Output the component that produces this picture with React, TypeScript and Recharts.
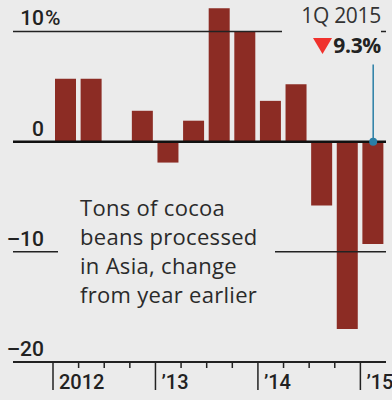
import { BarChart, Bar, XAxis, YAxis, ReferenceLine, ReferenceDot } from 'recharts';

const quarters = ['1Q12', '2Q12', '3Q12', '4Q12', '1Q13', '2Q13', '3Q13', '4Q13', '1Q14', '2Q14', '3Q14', '4Q14', '1Q15'];
const changes = [5.7, 5.7, 0, 2.8, -1.9, 1.9, 12.1, 10.0, 3.7, 5.2, -5.8, -17.0, -9.3];
const yearStarts = ['1Q12', '1Q13', '1Q14', '1Q15'];
const yearLabels = ['2012', '\u201913', '\u201914', '\u201915'];
const yTicks = [-20, -10, 0, 10];

const BG = '#ebebeb';
const BAR = '#8c2c24';
const INK = '#222';
const BLUE = '#2a7fa6';

const data = quarters.map((q, i) => ({ q, change: changes[i] }));

function yLabel(v: number) {
  return (props: any) => {
    const { viewBox } = props;
    const x = viewBox.x + 31;
    const y = viewBox.y - 6;
    const txt = v < 0 ? '\u2013' + Math.abs(v) : String(v);
    return (
      <g>
        <text x={x} y={y} textAnchor="end" fill={INK} fontSize={21} fontWeight={500} fontFamily="Roboto">
          {txt}
        </text>
        {v === 10 && (
          <text x={x + 1} y={y} textAnchor="start" fill={INK} fontSize={21} fontWeight={500} fontFamily="Roboto">
            %
          </text>
        )}
      </g>
    );
  };
}

function XTick(props: any) {
  const { x, y, payload } = props;
  const left = x - payload.offset;
  const yi = yearStarts.indexOf(payload.value);
  const major = yi >= 0;
  return (
    <g>
      <line x1={left} x2={left} y1={y} y2={y + (major ? 28 : 6)} stroke={INK} strokeWidth={1.5} />
      {major && (
        <text x={left + 6} y={y + 27} textAnchor="start" fill={INK} fontSize={20} fontWeight={500} fontFamily="Roboto">
          {yearLabels[yi]}
        </text>
      )}
    </g>
  );
}

export default function App() {
  return (
    <div style={{ position: 'absolute', left: 0, top: 0, width: 392, height: 400, background: BG, overflow: 'hidden' }}>
      <BarChart width={392} height={400} data={data} margin={{ top: 5, right: 6, left: 13, bottom: 8 }} barSize={21}>
        <XAxis
          dataKey="q"
          padding={{ left: 40, right: 0 }}
          interval={0}
          tickLine={false}
          tickSize={0}
          tickMargin={0}
          height={30}
          axisLine={{ stroke: INK, strokeWidth: 2 }}
          tick={<XTick />}
        />
        <YAxis hide domain={[-20, 12.4]} ticks={yTicks} />
        <ReferenceLine y={10} stroke={INK} strokeWidth={1.5} />
        <ReferenceLine y={-10} stroke={INK} strokeWidth={1.5} />
        <Bar dataKey="change" fill={BAR} isAnimationActive={false} />
        <ReferenceLine y={0} stroke="#111" strokeWidth={2.5} />
        <ReferenceLine segment={[{ x: '1Q15', y: 0 }, { x: '1Q15', y: 7 }]} stroke={BLUE} strokeWidth={1.5} />
        <ReferenceDot x="1Q15" y={0} r={4} fill={BLUE} stroke="none" />
        {yTicks.map((v) => (
          <ReferenceLine key={v} y={v} stroke="none" label={yLabel(v)} />
        ))}
      </BarChart>
      <div
        style={{
          position: 'absolute',
          left: 282,
          top: 0,
          width: 99,
          height: 60,
          background: BG,
          textAlign: 'right',
          fontFamily: '"Open Sans"',
          color: '#333',
          fontSize: 21,
          lineHeight: '30px',
          letterSpacing: -0.3,
        }}
      >
        <div>1Q 2015</div>
        <div style={{ fontWeight: 700, color: '#222' }}>
          <svg width={19} height={16} style={{ marginRight: 1, verticalAlign: '-1px' }}>
            <polygon points="0,0 19,0 9.5,16" fill="#f0312c" />
          </svg>
          9.3%
        </div>
      </div>
      <div
        style={{
          position: 'absolute',
          left: 58,
          top: 193,
          width: 217,
          boxSizing: 'border-box',
          paddingLeft: 22,
          background: BG,
          fontFamily: '"Open Sans"',
          color: '#2a2a2a',
          fontSize: 22,
          letterSpacing: 0.3,
          lineHeight: '29px',
          whiteSpace: 'nowrap',
        }}
      >
        Tons of cocoa
        <br />
        beans processed
        <br />
        in Asia, change
        <br />
        from year earlier
      </div>
    </div>
  );
}
